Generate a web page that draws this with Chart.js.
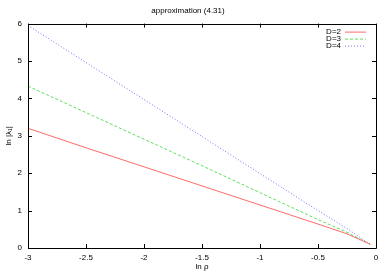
<!DOCTYPE html>
<html>
<head>
<meta charset="utf-8">
<script src="https://cdn.jsdelivr.net/npm/chart.js@4.4.1/dist/chart.umd.min.js"></script>
<style>
  html, body { margin: 0; padding: 0; background: #fff; }
  #wrap { width: 389px; height: 273px; }
</style>
</head>
<body>
<div id="wrap"><canvas id="chart" width="389" height="273"></canvas></div>
<script>
var lnRho = [-3, -2.5, -2, -1.5, -1, -0.5, -0.25, -0.05];
var d2 = [3.2, 2.68, 2.17, 1.66, 1.15, 0.64, 0.38, 0.1];
var d3 = [4.33, 3.62, 2.91, 2.2, 1.48, 0.76, 0.42, 0.1];
var d4 = [5.95, 4.96, 3.97, 2.98, 1.99, 1.0, 0.52, 0.1];
var seriesLabels = ['D=2', 'D=3', 'D=4'];
var xTicks = [-3, -2.5, -2, -1.5, -1, -0.5, 0];
var yTicks = [0, 1, 2, 3, 4, 5, 6];

function pts(ys) {
    return lnRho.map(function (x, i) { return {x: x, y: ys[i]}; });
}

var font = 'Liberation Sans, Arial, sans-serif';
var plain = function (v) { return String(v); };

var ctx = document.getElementById('chart');
var chart = new Chart(ctx, {
    type: 'scatter',
    data: {
        datasets: [
            {label: seriesLabels[0], data: pts(d2), showLine: true, borderColor: '#ff6a6a', borderWidth: 1, pointRadius: 0, borderDash: []},
            {label: seriesLabels[1], data: pts(d3), showLine: true, borderColor: '#5ee05e', borderWidth: 1, pointRadius: 0, borderDash: [3, 2]},
            {label: seriesLabels[2], data: pts(d4), showLine: true, borderColor: '#7070ff', borderWidth: 1, pointRadius: 0, borderDash: [1, 2]}
        ]
    },
    options: {
        responsive: false,
        animation: false,
        layout: {padding: {left: 0, right: 13, top: 0, bottom: 0}},
        plugins: {
            legend: {display: false},
            tooltip: {enabled: false},
            title: {
                display: true,
                text: 'approximation (4.31)',
                color: '#000',
                font: {family: font, size: 8, weight: 'normal'},
                padding: {top: 6, bottom: 8}
            }
        },
        scales: {
            x: {
                type: 'linear', min: -3, max: 0,
                afterBuildTicks: function (s) { s.ticks = xTicks.map(function (v) { return {value: v}; }); },
                ticks: {color: '#000', font: {family: font, size: 8}, padding: 5, maxRotation: 0, callback: plain},
                grid: {display: false, drawTicks: false},
                border: {display: false},
                title: {display: true, text: 'ln ρ', color: '#000', font: {family: font, size: 8}, padding: {top: 0, bottom: 1}},
                afterFit: function (s) { s.height = 25; }
            },
            y: {
                type: 'linear', min: 0, max: 6,
                afterBuildTicks: function (s) { s.ticks = yTicks.map(function (v) { return {value: v}; }); },
                ticks: {color: '#000', font: {family: font, size: 8}, padding: 6, callback: plain},
                grid: {display: false, drawTicks: false},
                border: {display: false},
                title: {display: true, text: 'ln |λ₁|', color: '#000', font: {family: font, size: 8}, padding: {top: 4, bottom: 0}},
                afterFit: function (s) { s.width = 28; }
            }
        }
    },
    plugins: [{
        id: 'gnuplot-frame',
        afterDraw: function (chart) {
            var c = chart.ctx, a = chart.chartArea;
            var sx = chart.scales.x, sy = chart.scales.y;
            c.save();
            c.strokeStyle = '#000';
            c.lineWidth = 1;
            c.beginPath();
            c.rect(Math.round(a.left) + 0.5, Math.round(a.top) + 0.5, Math.round(a.right - a.left), Math.round(a.bottom - a.top));
            xTicks.forEach(function (v) {
                var px = Math.round(sx.getPixelForValue(v)) + 0.5;
                c.moveTo(px, a.bottom); c.lineTo(px, a.bottom - 4);
                c.moveTo(px, a.top); c.lineTo(px, a.top + 4);
            });
            yTicks.forEach(function (v) {
                var py = Math.round(sy.getPixelForValue(v)) + 0.5;
                c.moveTo(a.left, py); c.lineTo(a.left + 4, py);
                c.moveTo(a.right, py); c.lineTo(a.right - 4, py);
            });
            c.stroke();

            // legend, gnuplot style: text then sample line
            c.font = '8px ' + font;
            c.textAlign = 'right';
            c.textBaseline = 'middle';
            chart.data.datasets.forEach(function (ds, i) {
                var y = a.top + 8 + i * 7;
                c.fillStyle = '#000';
                c.fillText(ds.label, a.right - 35, y);
                c.strokeStyle = ds.borderColor;
                c.setLineDash(ds.borderDash);
                c.beginPath();
                c.moveTo(a.right - 31, y + 0.5);
                c.lineTo(a.right - 10, y + 0.5);
                c.stroke();
            });
            c.restore();
        }
    }]
});
</script>
</body>
</html>
